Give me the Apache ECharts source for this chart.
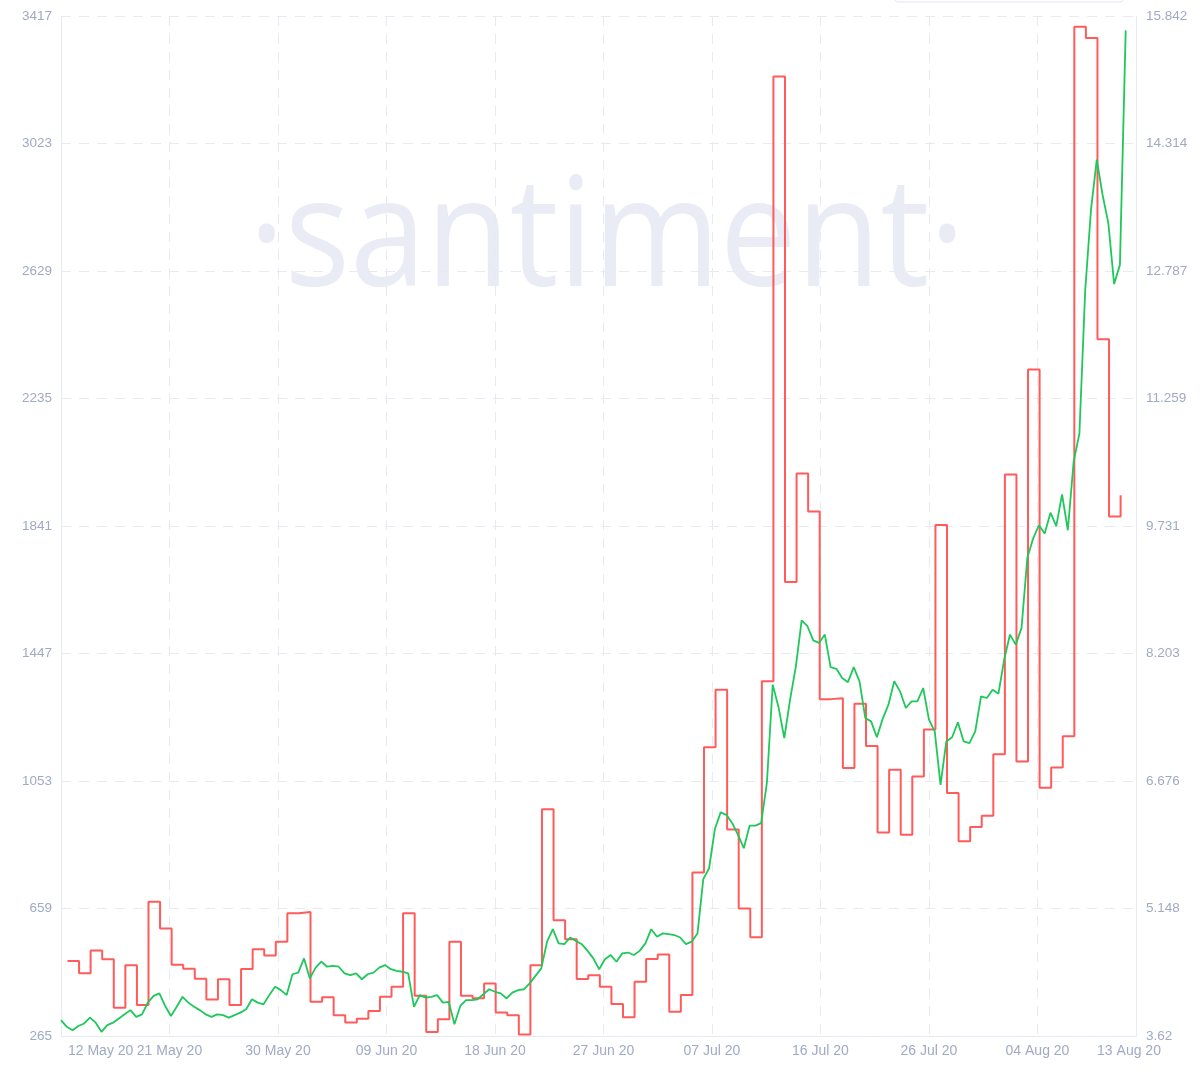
<!DOCTYPE html>
<html>
<head>
<meta charset="utf-8">
<script src="https://cdn.jsdelivr.net/npm/echarts@6/dist/echarts.min.js"></script>
<style>
html,body{margin:0;padding:0;background:#ffffff;}
#chart{width:1202px;height:1074px;}
</style>
</head>
<body>
<div id="chart"></div>
<script>
// ---- tick labels ----
const xTickLabels = ['12 May 20','21 May 20','30 May 20','09 Jun 20','18 Jun 20','27 Jun 20','07 Jul 20','16 Jul 20','26 Jul 20','04 Aug 20','13 Aug 20'];
const leftTickLabels = ['265','659','1053','1447','1841','2235','2629','3023','3417'];
const rightTickLabels = ['3.62','5.148','6.676','8.203','9.731','11.259','12.787','14.314','15.842'];

// ---- red series: daily values (left axis) ----
const socialVolume = [
  497, 459, 529, 502, 352, 484, 361, 680, 597, 485,
  473, 442, 378, 440, 361, 472, 533, 514, 556, 644,
  648, 371, 385, 329, 307, 318, 342, 386, 417, 644,
  389, 277, 317, 556, 389, 382, 427, 338, 329, 270,
  484, 966, 623, 564, 441, 453, 417, 364, 323, 433,
  503, 517, 340, 392, 770, 1157, 1335, 903, 659, 570,
  1361, 3230, 1668, 2003, 1886, 1306, 1309, 1093, 1292, 1161,
  894, 1088, 887, 1067, 1212, 1844, 1016, 867, 911, 946,
  1136, 2000, 1113, 2325, 1032, 1095, 1191, 3384, 3349, 2418,
  1870, 1936
];

// ---- green series: half-day price values (right axis) ----
const price = [
  3.81, 3.73, 3.69, 3.74, 3.77, 3.84, 3.78, 3.67, 3.75, 3.78,
  3.83, 3.88, 3.93, 3.85, 3.88, 4.02, 4.10, 4.13, 3.98, 3.86,
  3.97, 4.09, 4.02, 3.97, 3.93, 3.88, 3.85, 3.88, 3.87, 3.84,
  3.87, 3.90, 3.94, 4.06, 4.02, 4.00, 4.11, 4.21, 4.17, 4.11,
  4.36, 4.38, 4.55, 4.31, 4.44, 4.51, 4.45, 4.46, 4.45, 4.37,
  4.35, 4.37, 4.30, 4.36, 4.38, 4.44, 4.47, 4.42, 4.40, 4.39,
  4.37, 3.97, 4.11, 4.08, 4.09, 4.11, 4.02, 4.03, 3.76, 3.98,
  4.05, 4.05, 4.06, 4.12, 4.18, 4.15, 4.13, 4.07, 4.14, 4.17,
  4.18, 4.25, 4.34, 4.43, 4.75, 4.90, 4.73, 4.72, 4.80, 4.76,
  4.72, 4.64, 4.55, 4.42, 4.54, 4.59, 4.51, 4.61, 4.62, 4.59,
  4.64, 4.73, 4.90, 4.81, 4.85, 4.84, 4.83, 4.80, 4.72, 4.75,
  4.85, 5.50, 5.63, 6.10, 6.30, 6.27, 6.17, 6.03, 5.87, 6.14,
  6.14, 6.17, 6.66, 7.83, 7.56, 7.19, 7.65, 8.05, 8.60, 8.53,
  8.36, 8.33, 8.43, 8.04, 8.02, 7.91, 7.86, 8.04, 7.87, 7.43,
  7.39, 7.20, 7.42, 7.59, 7.87, 7.75, 7.55, 7.63, 7.63, 7.79,
  7.41, 7.27, 6.63, 7.15, 7.20, 7.38, 7.15, 7.13, 7.27, 7.69,
  7.67, 7.77, 7.72, 8.13, 8.43, 8.31, 8.51, 9.35, 9.58, 9.74,
  9.64, 9.89, 9.73, 10.11, 9.68, 10.50, 10.84, 12.55, 13.52, 14.12,
  13.70, 13.36, 12.63, 12.86, 15.67
];

// ---- axis configuration ----
const LEFT_MIN = 265, LEFT_STEP = 394, LEFT_SPAN = 3152;
const RIGHT_MIN = 3.62, RIGHT_STEP = 1.52775, RIGHT_SPAN = 12.222;
const X_STEP = 9.375, X_MAX = 92.89;      // days
const RED_START = 0.56, GREEN_DT = 0.5;   // days

const redData = socialVolume.map((v, k) => [RED_START + k, v - LEFT_MIN]);
const greenData = price.map((v, j) => [j * GREEN_DT, v - RIGHT_MIN]);

const LABEL_COLOR = '#9faac4';
const GRID_COLOR = '#e7eaf3';
const FONT = '"Liberation Sans", Arial, sans-serif';

const chart = echarts.init(document.getElementById('chart'), null, {renderer: 'canvas'});

chart.setOption({
  animation: false,
  backgroundColor: '#ffffff',
  grid: {left: 61, right: 66, top: 16, bottom: 38, containLabel: false},
  graphic: [
    {
      type: 'text', z: -10, silent: true,
      x: 607, y: 243, scaleX: 0.9, scaleY: 1,
      style: {
        text: '\u00B7santiment\u00B7',
        fontFamily: '"Open Sans", sans-serif',
        fontSize: 152, fontWeight: 400,
        fill: '#e9ecf5',
        textAlign: 'center', textVerticalAlign: 'middle',
        align: 'center', verticalAlign: 'middle'
      }
    },
    {
      type: 'rect', z: -5, silent: true,
      shape: {x: 893, y: -30, width: 232, height: 32, r: 6},
      style: {fill: '#ffffff', stroke: '#e1e5ef', lineWidth: 1}
    }
  ],
  xAxis: {
    type: 'value', min: 0, max: X_MAX, interval: X_STEP,
    axisLine: {show: true, lineStyle: {color: GRID_COLOR, width: 1}},
    axisTick: {show: false},
    splitLine: {show: true, lineStyle: {color: GRID_COLOR, width: 1, type: [10, 8]}},
    axisLabel: {
      show: true, color: LABEL_COLOR, fontSize: 14, fontFamily: FONT, margin: 8,
      showMinLabel: true, showMaxLabel: true,
      alignMinLabel: 'left',
      formatter: function (v) {
        const i = Math.round(v / X_STEP);
        if (v >= X_MAX - 1e-6) return '{last|' + xTickLabels[xTickLabels.length - 1] + '}';
        if (i === 0) return '{first|' + xTickLabels[0] + '}';
        return xTickLabels[i] || '';
      },
      rich: {
        first: {color: LABEL_COLOR, fontSize: 14, fontFamily: FONT, padding: [0, 0, 0, 7]},
        last: {color: LABEL_COLOR, fontSize: 14, fontFamily: FONT, padding: [0, 14, 0, 0]}
      }
    }
  },
  yAxis: [
    {
      type: 'value', position: 'left', min: 0, max: LEFT_SPAN, interval: LEFT_STEP,
      axisLine: {show: true, lineStyle: {color: GRID_COLOR, width: 1}},
      axisTick: {show: false},
      splitLine: {show: true, lineStyle: {color: GRID_COLOR, width: 1, type: [10, 8]}},
      axisLabel: {
        color: LABEL_COLOR, fontSize: 13.5, fontFamily: FONT, margin: 9,
        showMinLabel: true, showMaxLabel: true,
        formatter: v => leftTickLabels[Math.round(v / LEFT_STEP)] || ''
      }
    },
    {
      type: 'value', position: 'right', min: 0, max: RIGHT_SPAN, interval: RIGHT_STEP,
      axisLine: {show: true, lineStyle: {color: GRID_COLOR, width: 1}},
      axisTick: {show: false},
      splitLine: {show: false},
      axisLabel: {
        color: LABEL_COLOR, fontSize: 13.5, fontFamily: FONT, margin: 10,
        showMinLabel: true, showMaxLabel: true,
        formatter: v => rightTickLabels[Math.round(v / RIGHT_STEP)] || ''
      }
    }
  ],
  series: [
    {
      name: 'Social volume', type: 'line', yAxisIndex: 0, data: redData,
      step: 'end', symbol: 'none', showSymbol: false, z: 2,
      lineStyle: {color: '#ff5b5b', width: 2},
      itemStyle: {color: '#ff5b5b'}
    },
    {
      name: 'Price', type: 'line', yAxisIndex: 1, data: greenData,
      symbol: 'none', showSymbol: false, z: 3,
      lineStyle: {color: '#1ec85a', width: 1.8},
      itemStyle: {color: '#1ec85a'}
    }
  ]
});
</script>
</body>
</html>
